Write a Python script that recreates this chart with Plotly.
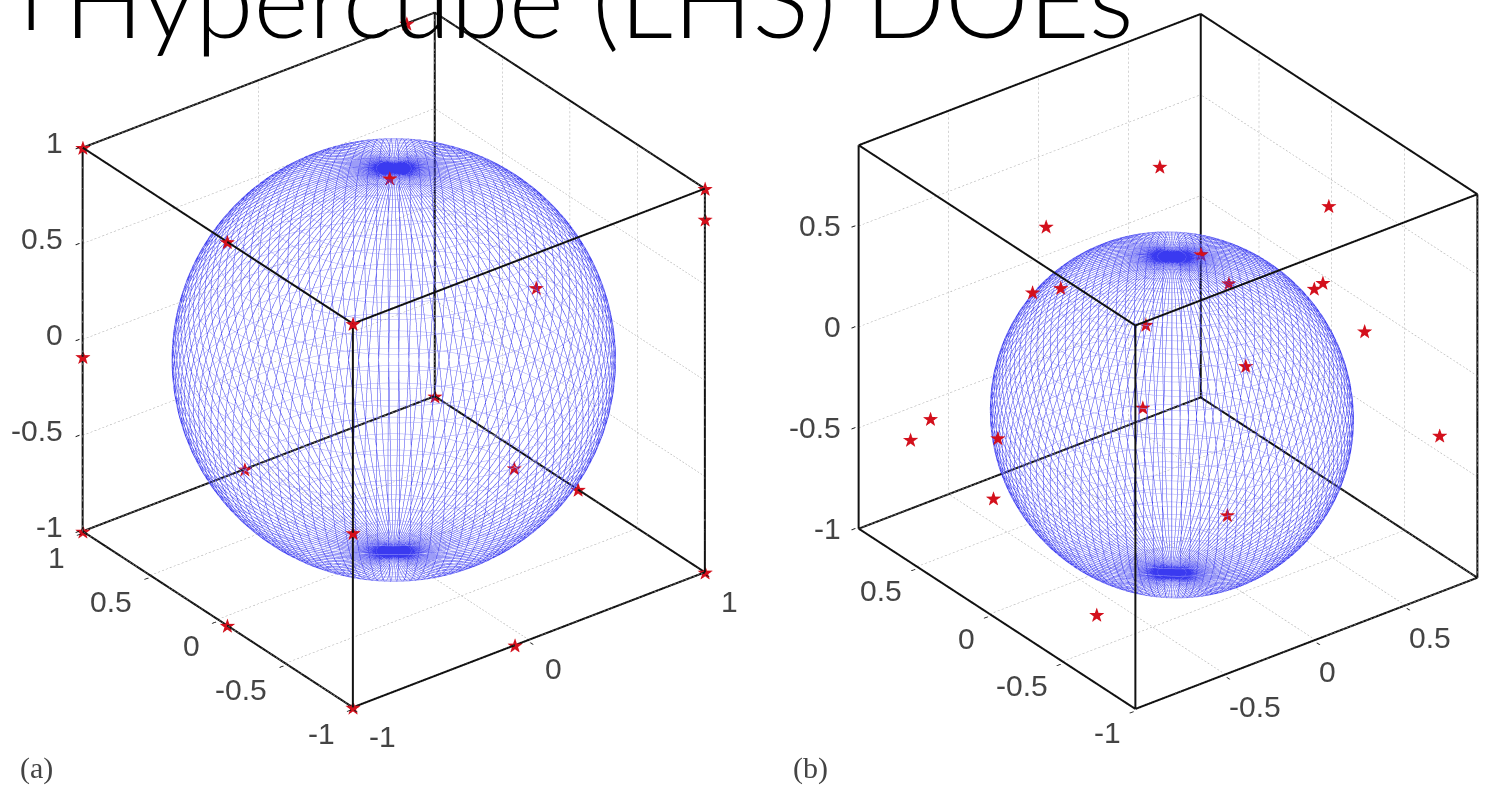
import math
import numpy as np
import plotly.graph_objects as go

TITLE_LEFT = "n"
TITLE_RIGHT = "Hypercube (LHS) DOEs"

# Panel (a): star points
a_x = [0.84, -1, 1, 1, -0.07, -1, 1, -1, -1, 1, -0.08, 0.89, 1, -1, -1, 1, -1, -1, -0.08]
a_y = [1, 1, -1, -1, -0.06, -0.07, 0.25, -1, 1, 1, 1, 0.27, -0.06, -1, 1, -1, -1, -0.07, -1]
a_z = [1, 1, 1, 0.84, 1, 1, -0.09, 1, -0.09, -1, -1, -1, -1, -0.09, -1, -1, -1, -1, -1]

# Panel (b): star points
b_x = [-0.04, 0.47, -0.51, -0.03, -0.65, -0.55, 0.02, 0.30, 0.34, -0.32, 0.41, -0.04, -0.45, -0.95, -0.98, -0.98, 0.73, -0.94, -0.32, -0.90]
b_y = [0.02, -0.51, 0.22, -0.25, 0.14, 0.07, -0.38, -0.62, -0.63, -0.23, -0.83, -0.57, -0.37, 0.47, 0.57, -0.03, -0.95, 0.05, -0.79, -0.61]
b_z = [0.88, 0.76, 0.65, 0.57, 0.41, 0.43, 0.47, 0.46, 0.48, 0.31, 0.31, 0.17, 0.01, -0.27, -0.41, -0.12, -0.26, -0.47, -0.37, -0.75]

a_range = [-1, 1]
b_range = [-1, 0.9]
a_xticks = [-1, 0, 1]
a_yticks = [-1, -0.5, 0, 0.5, 1]
a_zticks = [-1, -0.5, 0, 0.5, 1]
b_xticks = [-0.5, 0, 0.5]
b_yticks = [-1, -0.5, 0, 0.5]
b_zticks = [-1, -0.5, 0, 0.5]

a_sphere = (0, 0, 0, 1)
b_sphere = (-0.15, -0.2, -0.21, 0.785)

N_MERIDIANS = 120
N_PARALLELS = 41
N_SEG = 120
GRID_DOT = 0.022
PAD = 0.01


def meridians(cx, cy, cz, r):
    xs, ys, zs = [], [], []
    for lon in np.linspace(0, 2 * np.pi, N_MERIDIANS, endpoint=False):
        t = np.linspace(-np.pi / 2, np.pi / 2, N_SEG)
        xs += list(cx + r * np.cos(t) * np.cos(lon)) + [None]
        ys += list(cy + r * np.cos(t) * np.sin(lon)) + [None]
        zs += list(cz + r * np.sin(t)) + [None]
    return xs, ys, zs


def parallels(cx, cy, cz, r):
    xs, ys, zs = [], [], []
    for lat in np.linspace(-np.pi / 2, np.pi / 2, N_PARALLELS)[1:-1]:
        t = np.linspace(0, 2 * np.pi, N_SEG)
        xs += list(cx + r * np.cos(lat) * np.cos(t)) + [None]
        ys += list(cy + r * np.cos(lat) * np.sin(t)) + [None]
        zs += list(cz + r * np.sin(lat) * np.ones_like(t)) + [None]
    return xs, ys, zs


def grid(rng, xt, yt, zt):
    lo, hi = rng
    xs, ys, zs = [], [], []

    def seg(p, q):
        p, q = np.array(p, float), np.array(q, float)
        n = int(np.linalg.norm(q - p) / GRID_DOT)
        for i in range(n):
            a = p + (q - p) * i / n
            b = p + (q - p) * (i + 0.5) / n
            xs.extend([a[0], b[0], None]); ys.extend([a[1], b[1], None]); zs.extend([a[2], b[2], None])

    for v in xt:
        seg((v, hi, lo), (v, hi, hi)); seg((v, lo, lo), (v, hi, lo))
    for v in yt:
        seg((hi, v, lo), (hi, v, hi)); seg((lo, v, lo), (hi, v, lo))
    for v in zt:
        seg((lo, hi, v), (hi, hi, v)); seg((hi, lo, v), (hi, hi, v))
    return xs, ys, zs


def box(rng):
    lo, hi = rng
    xs, ys, zs = [], [], []
    c = [lo, hi]
    for u in c:
        for v in c:
            xs += [lo, hi, None]; ys += [u, u, None]; zs += [v, v, None]
            xs += [u, u, None]; ys += [lo, hi, None]; zs += [v, v, None]
            xs += [u, u, None]; ys += [v, v, None]; zs += [lo, hi, None]
    return xs, ys, zs


def axis(rng, ticks):
    return dict(range=[rng[0] - PAD, rng[1] + PAD], tickmode="array", tickvals=ticks, showticklabels=False,
                title=dict(text=""), showgrid=False, showbackground=False, showspikes=False,
                zeroline=False, showline=False,
                ticks="outside", ticklen=5, tickwidth=2, tickcolor="#111111")


def tick_notes(rng, xt, yt, zt, xs, ys, zs):
    lo, hi = rng
    font = dict(family="Liberation Sans", size=30, color="#444444")
    common = dict(showarrow=False, font=font, yanchor="middle")
    notes = []
    for v in xt:
        notes.append(dict(x=v, y=lo, z=lo, text=f"{v:g}", xanchor="left", xshift=xs[0], yshift=xs[1], **common))
    for v in yt:
        notes.append(dict(x=lo, y=v, z=lo, text=f"{v:g}", xanchor="right", xshift=ys[0], yshift=ys[1], **common))
    for v in zt:
        notes.append(dict(x=lo, y=hi, z=v, text=f"{v:g}", xanchor="right", xshift=zs[0], yshift=zs[1], **common))
    return notes


def camera(az_deg, el_deg, dist, dx_px, dy_px, px_per_unit):
    az, el = math.radians(az_deg), math.radians(el_deg)
    d = np.array([-math.sin(az) * math.cos(el), -math.cos(az) * math.cos(el), math.sin(el)])
    right = np.array([math.cos(az), -math.sin(az), 0.0])
    up = np.array([math.sin(az) * math.sin(el), math.cos(az) * math.sin(el), math.cos(el)])
    shift = (-dx_px * right - dy_px * up) / px_per_unit
    e = d * dist + shift
    return dict(eye=dict(x=e[0], y=e[1], z=e[2]), center=dict(x=shift[0], y=shift[1], z=shift[2]),
                up=dict(x=0, y=0, z=1), projection=dict(type="orthographic"))


fig = go.Figure()
panels = [
    ("scene", a_x, a_y, a_z, a_range, a_xticks, a_yticks, a_zticks, a_sphere),
    ("scene2", b_x, b_y, b_z, b_range, b_xticks, b_yticks, b_zticks, b_sphere),
]
for name, px, py, pz, rng, xt, yt, zt, sph in panels:
    gx, gy, gz = grid(rng, xt, yt, zt)
    fig.add_trace(go.Scatter3d(x=gx, y=gy, z=gz, mode="lines", scene=name,
                               line=dict(color="#a8a8a8", width=1), hoverinfo="skip"))
    sx, sy, sz = parallels(*sph)
    fig.add_trace(go.Scatter3d(x=sx, y=sy, z=sz, mode="lines", scene=name,
                               line=dict(color="#a4a4f8", width=1), hoverinfo="skip"))
    sx, sy, sz = meridians(*sph)
    fig.add_trace(go.Scatter3d(x=sx, y=sy, z=sz, mode="lines", scene=name,
                               line=dict(color="#3a3af0", width=1), hoverinfo="skip"))
    bx, by, bz = box(rng)
    fig.add_trace(go.Scatter3d(x=bx, y=by, z=bz, mode="lines", scene=name,
                               line=dict(color="#111111", width=4), hoverinfo="skip"))
    fig.add_trace(go.Scatter3d(x=px, y=py, z=pz, mode="text", scene=name, text=["★"] * len(px),
                               textposition="middle center",
                               textfont=dict(color="#d3101c", size=20, family="DejaVu Sans"), hoverinfo="skip"))

PX = 392.0
fig.update_layout(
    width=1491, height=785, margin=dict(l=0, r=0, t=0, b=0), showlegend=False,
    paper_bgcolor="white", font=dict(family="Liberation Sans"),
    scene=dict(domain=dict(x=[0, 0.52], y=[0, 1]), aspectmode="manual", aspectratio=dict(x=1.142, y=1.142, z=1.14),
               xaxis=axis(a_range, a_xticks), yaxis=axis(a_range, a_yticks), zaxis=axis(a_range, a_zticks),
               camera=camera(37.5, 30, 2.0, 6.3, 32.5, PX),
               annotations=tick_notes(a_range, a_xticks, a_yticks, a_zticks, (14, -29), (-16, -26), (-18, 5))),
    scene2=dict(domain=dict(x=[0.52, 1], y=[0, 1]), aspectmode="manual", aspectratio=dict(x=1.11, y=1.17, z=1.14),
                xaxis=axis(b_range, b_xticks), yaxis=axis(b_range, b_yticks), zaxis=axis(b_range, b_zticks),
                camera=camera(37.5, 30, 2.0, 35, 31, PX),
                annotations=tick_notes(b_range, b_xticks, b_yticks, b_zticks, (2, -32), (-13, -24), (-16, 0))),
    annotations=[
        dict(text=TITLE_LEFT, xref="paper", yref="paper", x=0, y=1, xanchor="left", yanchor="top", showarrow=False,
             yshift=76, xshift=-18, font=dict(family="Lato", size=105, color="#000000", weight=300)),
        dict(text=TITLE_RIGHT, xref="paper", yref="paper", x=0, y=1, xanchor="left", yanchor="top", showarrow=False,
             yshift=68, xshift=62, font=dict(family="Lato", size=105.5, color="#000000", weight=300)),
        dict(text="(a)", xref="paper", yref="paper", x=36 / 1491, y=1 - 768 / 785, xanchor="center", yanchor="middle",
             showarrow=False, font=dict(family="Liberation Serif", size=30, color="#444444")),
        dict(text="(b)", xref="paper", yref="paper", x=810 / 1491, y=1 - 768 / 785, xanchor="center", yanchor="middle",
             showarrow=False, font=dict(family="Liberation Serif", size=30, color="#444444")),
    ],
)
fig.write_html("out.html", config=dict(displayModeBar=False),
               post_script="document.body.style.margin='0';")
